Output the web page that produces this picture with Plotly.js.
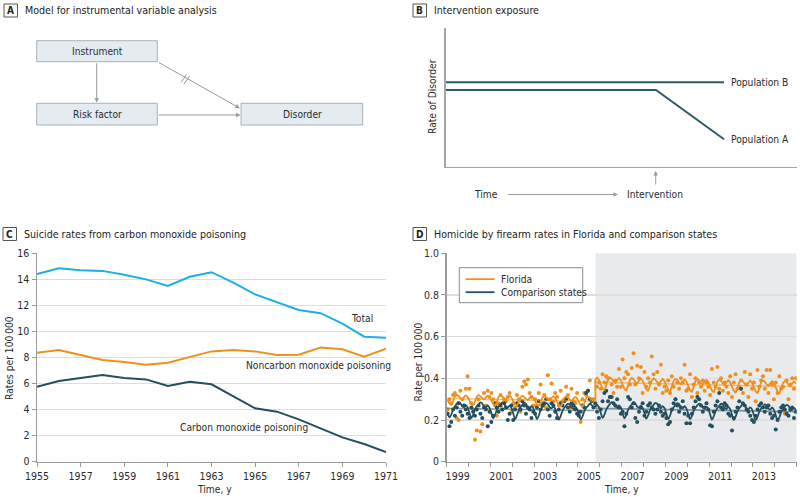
<!DOCTYPE html>
<html>
<head>
<meta charset="utf-8">
<script src="https://cdn.plot.ly/plotly-3.0.1.min.js"></script>
<style>html,body{margin:0;padding:0;background:#fff}#chart{width:800px;height:497px}</style>
</head>
<body>
<div id="chart"></div>
<script>
// ---------- Panel B (conceptual) ----------
const timeB = [0, 59.9, 79.3];
const popA = [55.4, 55.4, 19.8];
const timeBB = [0, 79.3];
const popB = [61, 61];

// ---------- Panel C ----------
const yearsC = [1955,1956,1957,1958,1959,1960,1961,1962,1963,1964,1965,1966,1967,1968,1969,1970,1971];
const totalRate = [14.4,14.85,14.7,14.65,14.35,14.0,13.5,14.2,14.55,13.75,12.85,12.25,11.65,11.4,10.6,9.6,9.52];
const noncarbonRate = [8.37,8.58,8.19,7.81,7.65,7.45,7.6,8.06,8.47,8.58,8.47,8.19,8.22,8.76,8.63,8.06,8.68];
const carbonRate = [5.76,6.2,6.43,6.66,6.43,6.32,5.81,6.14,5.94,4.99,4.1,3.84,3.25,2.56,1.87,1.36,0.74];
const yearTicksC = [1955,1957,1959,1961,1963,1965,1967,1969,1971];

// ---------- Panel D (monthly, Jan 1999 - Dec 2014) ----------
const floridaRate = [
 0.25,0.30,0.28,0.32,0.33,0.21,0.20,0.34,0.30,0.27,0.35,0.41,
 0.35,0.28,0.25,0.105,0.15,0.30,0.145,0.18,0.33,0.27,0.34,0.31,
 0.33,0.30,0.27,0.22,0.28,0.32,0.25,0.30,0.29,0.31,0.33,0.24,
 0.28,0.26,0.32,0.30,0.24,0.36,0.385,0.37,0.395,0.33,0.31,0.27,
 0.30,0.27,0.33,0.37,0.28,0.32,0.26,0.415,0.30,0.375,0.29,0.33,
 0.31,0.27,0.34,0.29,0.30,0.36,0.32,0.26,0.35,0.29,0.28,0.33,
 0.24,0.19,0.30,0.33,0.32,0.34,0.39,0.30,0.30,0.27,0.36,0.38,
 0.35,0.42,0.38,0.41,0.40,0.31,0.37,0.33,0.39,0.36,0.445,0.36,
 0.49,0.40,0.43,0.42,0.37,0.45,0.52,0.37,0.46,0.40,0.455,0.33,
 0.43,0.36,0.40,0.38,0.505,0.42,0.35,0.43,0.37,0.465,0.33,0.36,
 0.34,0.39,0.33,0.41,0.36,0.30,0.38,0.35,0.40,0.38,0.465,0.34,
 0.35,0.42,0.31,0.37,0.40,0.33,0.38,0.36,0.39,0.34,0.38,0.36,
 0.32,0.445,0.38,0.36,0.455,0.35,0.40,0.34,0.38,0.36,0.33,0.41,
 0.31,0.38,0.42,0.35,0.36,0.39,0.33,0.43,0.37,0.31,0.42,0.35,
 0.38,0.29,0.44,0.36,0.39,0.41,0.35,0.44,0.33,0.44,0.37,0.30,
 0.38,0.33,0.41,0.35,0.36,0.23,0.39,0.30,0.37,0.40,0.35,0.40
];
const comparisonRate = [
 0.23,0.17,0.19,0.25,0.22,0.26,0.28,0.24,0.22,0.27,0.25,0.23,
 0.21,0.26,0.24,0.22,0.25,0.27,0.23,0.21,0.26,0.25,0.17,0.24,
 0.19,0.22,0.28,0.26,0.24,0.27,0.25,0.28,0.26,0.20,0.23,0.27,
 0.20,0.25,0.28,0.27,0.25,0.29,0.27,0.23,0.26,0.25,0.21,0.24,
 0.23,0.26,0.29,0.25,0.27,0.28,0.30,0.25,0.22,0.28,0.27,0.24,
 0.21,0.25,0.28,0.27,0.29,0.30,0.26,0.24,0.28,0.27,0.25,0.23,
 0.22,0.24,0.27,0.26,0.33,0.34,0.30,0.29,0.26,0.28,0.24,0.21,
 0.25,0.29,0.33,0.34,0.29,0.31,0.31,0.28,0.27,0.30,0.26,0.23,
 0.24,0.17,0.23,0.31,0.30,0.26,0.28,0.21,0.19,0.24,0.26,0.28,
 0.22,0.24,0.27,0.28,0.26,0.25,0.23,0.25,0.27,0.24,0.22,0.23,
 0.21,0.18,0.19,0.25,0.28,0.30,0.27,0.24,0.26,0.29,0.23,0.185,
 0.22,0.185,0.23,0.26,0.29,0.31,0.30,0.27,0.24,0.26,0.28,0.25,
 0.175,0.17,0.24,0.27,0.29,0.33,0.26,0.25,0.28,0.27,0.23,0.22,
 0.15,0.21,0.24,0.26,0.29,0.35,0.28,0.27,0.25,0.24,0.22,0.20,
 0.19,0.22,0.25,0.27,0.28,0.26,0.24,0.26,0.27,0.23,0.21,0.22,
 0.155,0.20,0.24,0.26,0.27,0.25,0.23,0.22,0.25,0.26,0.21,0.24
];
const floridaFit = [
 0.295,0.280,0.272,0.290,0.312,0.320,0.315,0.305,0.300,0.310,0.318,0.310,
 0.294,0.279,0.271,0.289,0.311,0.319,0.314,0.304,0.299,0.309,0.317,0.309,
 0.293,0.278,0.270,0.288,0.310,0.318,0.313,0.303,0.298,0.308,0.316,0.308,
 0.291,0.276,0.268,0.286,0.308,0.316,0.311,0.301,0.296,0.306,0.314,0.306,
 0.290,0.275,0.267,0.285,0.307,0.315,0.310,0.300,0.295,0.305,0.313,0.305,
 0.288,0.273,0.265,0.283,0.305,0.313,0.308,0.298,0.293,0.303,0.311,0.303,
 0.287,0.272,0.264,0.282,0.304,0.312,0.307,0.297,0.292,0.393,0.403,0.393,
 0.371,0.352,0.342,0.365,0.394,0.404,0.398,0.385,0.378,0.391,0.401,0.391,
 0.369,0.350,0.340,0.363,0.392,0.402,0.396,0.383,0.376,0.389,0.399,0.389,
 0.367,0.348,0.338,0.361,0.390,0.400,0.394,0.381,0.374,0.387,0.397,0.387,
 0.365,0.346,0.336,0.359,0.388,0.398,0.392,0.379,0.372,0.385,0.395,0.385,
 0.363,0.344,0.334,0.357,0.386,0.396,0.390,0.377,0.370,0.383,0.393,0.383,
 0.361,0.342,0.332,0.355,0.384,0.394,0.388,0.375,0.368,0.381,0.391,0.381,
 0.359,0.340,0.330,0.353,0.382,0.392,0.386,0.373,0.366,0.379,0.389,0.379,
 0.357,0.338,0.328,0.351,0.380,0.390,0.384,0.371,0.364,0.377,0.387,0.377,
 0.355,0.336,0.326,0.349,0.378,0.388,0.382,0.369,0.362,0.375,0.385,0.375
];
const comparisonFit = [
 0.236,0.213,0.226,0.251,0.266,0.278,0.286,0.281,0.266,0.262,0.271,0.260,
 0.234,0.210,0.225,0.250,0.266,0.275,0.285,0.279,0.265,0.260,0.270,0.259,
 0.233,0.208,0.224,0.249,0.264,0.274,0.284,0.279,0.264,0.259,0.269,0.258,
 0.231,0.204,0.222,0.247,0.262,0.272,0.283,0.277,0.262,0.257,0.267,0.257,
 0.230,0.205,0.221,0.246,0.261,0.271,0.281,0.276,0.261,0.256,0.266,0.255,
 0.228,0.202,0.219,0.244,0.259,0.269,0.279,0.274,0.259,0.254,0.264,0.254,
 0.227,0.203,0.218,0.243,0.258,0.268,0.278,0.273,0.258,0.262,0.272,0.262,
 0.235,0.210,0.226,0.250,0.265,0.276,0.286,0.280,0.265,0.260,0.270,0.260,
 0.233,0.208,0.224,0.249,0.264,0.274,0.284,0.279,0.264,0.259,0.269,0.258,
 0.232,0.207,0.222,0.247,0.262,0.273,0.282,0.277,0.262,0.257,0.267,0.257,
 0.230,0.205,0.221,0.246,0.261,0.271,0.281,0.276,0.261,0.256,0.266,0.255,
 0.229,0.204,0.219,0.244,0.259,0.270,0.279,0.274,0.259,0.254,0.264,0.254,
 0.227,0.202,0.218,0.243,0.258,0.268,0.278,0.273,0.258,0.253,0.263,0.252,
 0.226,0.200,0.216,0.241,0.256,0.267,0.276,0.271,0.256,0.251,0.261,0.251,
 0.224,0.199,0.215,0.240,0.255,0.265,0.275,0.270,0.255,0.250,0.260,0.249,
 0.223,0.198,0.213,0.238,0.253,0.264,0.273,0.268,0.253,0.248,0.258,0.248
];
const trendPreX = [1999.0, 2005.75];
const trendPostX = [2005.75, 2015.0];
const floridaTrendPre = [0.303, 0.290];
const floridaTrendPost = [0.381, 0.360];
const comparisonTrendPre = [0.256, 0.246];
const comparisonTrendPost = [0.256, 0.240];
const interventionStart = 2005.8;
const yearLabelsD = ['1999','2001','2003','2005','2007','2009','2011','2013'];
const yTicksD = [0, 0.2, 0.4, 0.6, 0.8, 1.0];
const yTickTextD = ['0','0.2','0.4','0.6','0.8','1.0'];

// ---------- build ----------
const FONT = 'DejaVu Sans Condensed, DejaVu Sans, sans-serif';
const TXT = '#2b2b2b';
const FS = 10.2;
const W = 800, H = 497;
const P = x => x / W;
const Q = y => 1 - y / H;

const monthX = floridaRate.map((_, i) => 1999 + (i + 0.5) / 12);
const nPre = 81; // Jan 1999 - Sep 2005
const BLUE = '#1eaee6', ORANGE = '#f0901c', DARK = '#244f5e';
const ORANGE_L = 'rgba(240,144,28,0.55)', DARK_L = 'rgba(36,79,94,0.55)';

const traces = [
  {x: timeBB, y: popB, xaxis: 'x', yaxis: 'y', mode: 'lines', line: {color: '#2f5a69', width: 2}},
  {x: timeB, y: popA, xaxis: 'x', yaxis: 'y', mode: 'lines', line: {color: '#2f5a69', width: 2}},
  {x: yearsC, y: totalRate, xaxis: 'x3', yaxis: 'y3', mode: 'lines', line: {color: BLUE, width: 2}},
  {x: yearsC, y: noncarbonRate, xaxis: 'x3', yaxis: 'y3', mode: 'lines', line: {color: ORANGE, width: 2}},
  {x: yearsC, y: carbonRate, xaxis: 'x3', yaxis: 'y3', mode: 'lines', line: {color: DARK, width: 2}},
  {x: monthX, y: floridaRate, xaxis: 'x4', yaxis: 'y4', mode: 'markers', marker: {color: ORANGE, size: 4}},
  {x: monthX, y: comparisonRate, xaxis: 'x4', yaxis: 'y4', mode: 'markers', marker: {color: DARK, size: 4}},
  {x: trendPreX, y: comparisonTrendPre, xaxis: 'x4', yaxis: 'y4', mode: 'lines', line: {color: DARK_L, width: 1.6}},
  {x: trendPostX, y: comparisonTrendPost, xaxis: 'x4', yaxis: 'y4', mode: 'lines', line: {color: DARK_L, width: 1.6}},
  {x: trendPreX, y: floridaTrendPre, xaxis: 'x4', yaxis: 'y4', mode: 'lines', line: {color: ORANGE_L, width: 1.6}},
  {x: trendPostX, y: floridaTrendPost, xaxis: 'x4', yaxis: 'y4', mode: 'lines', line: {color: ORANGE_L, width: 1.6}},
  {x: monthX.slice(0, nPre), y: comparisonFit.slice(0, nPre), xaxis: 'x4', yaxis: 'y4', mode: 'lines', line: {color: DARK, width: 1.8, shape: 'spline', smoothing: 1}},
  {x: monthX.slice(nPre), y: comparisonFit.slice(nPre), xaxis: 'x4', yaxis: 'y4', mode: 'lines', line: {color: DARK, width: 1.8, shape: 'spline', smoothing: 1}},
  {x: monthX.slice(0, nPre), y: floridaFit.slice(0, nPre), xaxis: 'x4', yaxis: 'y4', mode: 'lines', line: {color: ORANGE, width: 1.8, shape: 'spline', smoothing: 1}},
  {x: [interventionStart].concat(monthX.slice(nPre)), y: [floridaFit[nPre - 1]].concat(floridaFit.slice(nPre)), xaxis: 'x4', yaxis: 'y4', mode: 'lines', line: {color: ORANGE, width: 1.8}},
];
traces.forEach(t => { t.showlegend = false; t.hoverinfo = 'skip'; });

const axisBase = {
  showline: true, linecolor: '#9a9a9a', linewidth: 1.5, zeroline: false,
  ticks: 'outside', ticklen: 4, tickwidth: 1, tickcolor: '#9a9a9a',
  tickfont: {family: FONT, size: 10.5, color: TXT}, fixedrange: true
};

const layout = {
  width: W, height: H,
  margin: {l: 0, r: 0, t: 0, b: 0},
  paper_bgcolor: '#ffffff', plot_bgcolor: '#ffffff',
  font: {family: FONT, size: FS, color: TXT},
  showlegend: false,
  xaxis: {domain: [P(445.7), P(796.7)], range: [0, 100], anchor: 'y', showline: true, linecolor: '#a5a5a5', linewidth: 1.5,
          showgrid: false, zeroline: false, ticks: '', showticklabels: false, fixedrange: true},
  yaxis: {domain: [Q(166.7), Q(28.3)], range: [0, 100], anchor: 'x', showline: true, linecolor: '#a5a5a5', linewidth: 1.5,
          showgrid: false, zeroline: false, ticks: '', showticklabels: false, fixedrange: true},
  xaxis3: Object.assign({}, axisBase, {domain: [P(37), P(386)], range: [1955, 1971], anchor: 'y3',
          tickmode: 'array', tickvals: yearTicksC, showgrid: false}),
  yaxis3: Object.assign({}, axisBase, {domain: [Q(461.7), Q(253.3)], range: [0, 16], anchor: 'x3',
          tickmode: 'linear', tick0: 0, dtick: 2, showgrid: true, gridcolor: '#dedede', gridwidth: 1.5}),
  xaxis4: Object.assign({}, axisBase, {domain: [P(446.7), P(796.7)], range: [1999, 2015], anchor: 'y4',
          tickmode: 'array', tickvals: yearLabelsD.map(s => +s + 0.5), ticktext: yearLabelsD,
          tickcolor: 'rgba(0,0,0,0)', showgrid: false,
          minor: {tickmode: 'array', tickvals: [1999,2000,2001,2002,2003,2004,2005,2006,2007,2008,2009,2010,2011,2012,2013,2014,2015],
                  ticks: 'outside', ticklen: 4, tickwidth: 1, tickcolor: '#9a9a9a', showgrid: false}}),
  yaxis4: Object.assign({}, axisBase, {domain: [Q(461.7), Q(253.3)], range: [0, 1], anchor: 'x4',
          tickmode: 'array', tickvals: yTicksD, ticktext: yTickTextD, showgrid: true, gridcolor: '#dedede', gridwidth: 1.5}),
  shapes: [],
  annotations: []
};

const S = layout.shapes, A = layout.annotations;
function txt(x, y, text, opt) {
  A.push(Object.assign({xref: 'paper', yref: 'paper', x: P(x), y: Q(y), text: text, showarrow: false,
    xanchor: 'left', yanchor: 'middle', font: {family: FONT, size: FS, color: TXT}}, opt || {}));
}
function box(x0, y0, x1, y1, fill, line, lw) {
  S.push({type: 'rect', xref: 'paper', yref: 'paper', x0: P(x0), x1: P(x1), y0: Q(y0), y1: Q(y1),
    fillcolor: fill, line: {color: line, width: lw}});
}
function seg(x0, y0, x1, y1, color, w) {
  S.push({type: 'line', xref: 'paper', yref: 'paper', x0: P(x0), x1: P(x1), y0: Q(y0), y1: Q(y1), line: {color: color, width: w}});
}
function arrow(xt, yt, xh, yh) {
  A.push({xref: 'paper', yref: 'paper', x: P(xh), y: Q(yh), ax: xt - xh, ay: yt - yh, axref: 'pixel', ayref: 'pixel',
    text: '', showarrow: true, arrowhead: 2, arrowsize: 0.9, arrowwidth: 1, arrowcolor: '#9a9a9a'});
}

const panels = [
  ['A', 4, 4, 'Model for instrumental variable analysis', 23],
  ['B', 413, 4, 'Intervention exposure', 432],
  ['C', 3, 227.5, 'Suicide rates from carbon monoxide poisoning', 22],
  ['D', 413, 227.5, 'Homicide by firearm rates in Florida and comparison states', 432]
];
panels.forEach(p => {
  box(p[1], p[2], p[1] + 13.5, p[2] + 13, 'rgba(0,0,0,0)', '#555', 1);
  txt(p[1] + 6.75, p[2] + 6.7, '<b>' + p[0] + '</b>', {xanchor: 'center', font: {family: FONT, size: 10, color: '#222'}});
  txt(p[4], p[2] + 6.5, p[3], {font: {family: FONT, size: 10.6, color: '#222'}});
});

const BF = '#e4ecf1', BL = '#a9b3b9';
box(36.7, 40.7, 157.3, 61.7, BF, BL, 1);
box(36.7, 103.3, 157.3, 125, BF, BL, 1);
box(241, 103.3, 362.7, 125, BF, BL, 1);
txt(97, 51.5, 'Instrument', {xanchor: 'center'});
txt(97, 114.5, 'Risk factor', {xanchor: 'center'});
txt(302, 114.5, 'Disorder', {xanchor: 'center'});
arrow(96.7, 61.7, 96.7, 102.5);
arrow(157.3, 115, 240.5, 115);
arrow(157.3, 61.7, 239.8, 108.2);
seg(181, 82.5, 186.5, 74.5, '#9a9a9a', 1);
seg(184, 84, 189.5, 76, '#9a9a9a', 1);

txt(728.5, 82.5, 'Population B');
txt(728.5, 139.5, 'Population A');
txt(432, 97, 'Rate of Disorder', {xanchor: 'center', textangle: -90});
txt(485.5, 194.5, 'Time', {xanchor: 'center'});
txt(655, 194.5, 'Intervention', {xanchor: 'center'});
arrow(506.7, 194.5, 618, 194.5);
arrow(655.7, 186, 655.7, 171);

txt(361.7, 318, 'Total', {xanchor: 'center'});
txt(318.5, 365, 'Noncarbon monoxide poisoning', {xanchor: 'center'});
txt(243.5, 427, 'Carbon monoxide poisoning', {xanchor: 'center'});
txt(9, 358, 'Rates per 100\u2009000', {xanchor: 'center', textangle: -90});
txt(214, 489, 'Time, y', {xanchor: 'center'});

S.push({type: 'rect', xref: 'x4', yref: 'y4', x0: interventionStart, x1: 2015, y0: 0, y1: 1,
  fillcolor: '#e9eaec', line: {width: 0}, layer: 'below'});
txt(417.5, 362, 'Rate per 100\u2009000', {xanchor: 'center', textangle: -90});
txt(621, 489, 'Time, y', {xanchor: 'center'});
box(459.3, 267.7, 582.7, 302.7, '#ffffff', '#8a8a8a', 1);
seg(465.7, 279.2, 494.5, 279.2, ORANGE, 1.8);
seg(465.7, 292.2, 494.5, 292.2, DARK, 1.8);
txt(498.5, 279.2, 'Florida');
txt(498.5, 292.2, 'Comparison states');

Plotly.newPlot('chart', traces, layout, {staticPlot: true, displayModeBar: false});
</script>
</body>
</html>
